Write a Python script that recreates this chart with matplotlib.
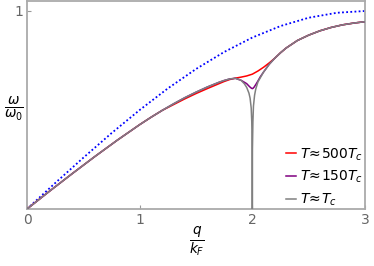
import numpy as np
import matplotlib
matplotlib.use("Agg")
import matplotlib.pyplot as plt

# free-ion dispersion (blue dotted)
q_free = [0, 0.25, 0.5, 0.75, 1.0, 1.25, 1.5, 1.75, 2.0, 2.25, 2.5, 2.75, 3.0]
w_free = [0, 0.131, 0.259, 0.383, 0.5, 0.609, 0.707, 0.793, 0.866, 0.924, 0.966, 0.991, 1.0]

# shared low-q and high-q parts of the screened curves
q_low = [0, 0.2, 0.4, 0.6, 0.8, 1.0, 1.1, 1.2]
w_low = [0, 0.09, 0.178, 0.264, 0.347, 0.426, 0.463, 0.498]
q_high = [2.2, 2.25, 2.3, 2.4, 2.5, 2.6, 2.7, 2.8, 2.9, 3.0]
w_high = [0.762, 0.789, 0.813, 0.851, 0.878, 0.9, 0.917, 0.93, 0.939, 0.946]

# T ~ Tc (gray)
q_tc = [1.3, 1.4, 1.5, 1.6, 1.7, 1.75, 1.8, 1.85, 1.9, 1.93, 1.95, 1.97, 1.98, 1.99,
        1.995, 1.999, 2.0, 2.001, 2.005, 2.01, 2.02, 2.03, 2.05, 2.1, 2.15]
w_tc = [0.531, 0.562, 0.59, 0.616, 0.639, 0.649, 0.657, 0.66, 0.65, 0.632, 0.614, 0.585, 0.56, 0.51,
        0.44, 0.30, 0.0, 0.30, 0.44, 0.52, 0.575, 0.605, 0.642, 0.692, 0.731]

# T ~ 150 Tc (purple)
q_150 = [1.3, 1.4, 1.5, 1.6, 1.7, 1.75, 1.8, 1.85, 1.9, 1.93, 1.95, 1.97, 1.985, 1.995,
         2.0, 2.005, 2.015, 2.03, 2.05, 2.07, 2.1, 2.15]
w_150 = [0.531, 0.562, 0.59, 0.616, 0.639, 0.649, 0.657, 0.66, 0.65, 0.64, 0.633, 0.621, 0.613, 0.609,
         0.608, 0.609, 0.615, 0.628, 0.647, 0.667, 0.692, 0.731]

# T ~ 500 Tc (red)
q_500 = [1.3, 1.4, 1.5, 1.6, 1.7, 1.75, 1.8, 1.85, 1.9, 1.95, 2.0, 2.05, 2.1, 2.15]
w_500 = [0.527, 0.556, 0.583, 0.608, 0.632, 0.644, 0.654, 0.661, 0.666, 0.672, 0.681, 0.697, 0.716, 0.738]

labels = [r'$T\!\approx\!500T_c$', r'$T\!\approx\!150T_c$', r'$T\!\approx\!T_c$']

fig = plt.figure(figsize=(3.74, 2.66), dpi=100)
ax = fig.add_axes([27/374, 1 - 209/266, 338/374, 208/266])

ax.plot(q_free, w_free, color='#0000ff', lw=1.3, linestyle=(0, (1, 1.3)), zorder=1)
ax.plot(q_low + q_500 + q_high, w_low + w_500 + w_high, color='#ff0000', lw=1.1, label=labels[0], zorder=2)
ax.plot(q_low + q_150 + q_high, w_low + w_150 + w_high, color='#800080', lw=1.1, label=labels[1], zorder=3)
ax.plot(q_low + q_tc + q_high, w_low + w_tc + w_high, color='#808080', lw=1.1, label=labels[2], zorder=4)

ax.set_xlim(0, 3)
ax.set_ylim(0, 1.0505)
ax.set_xticks([0, 1, 2, 3])
ax.set_yticks([1])
ax.tick_params(direction='in', length=3, width=0.8, colors='#999999', labelcolor='#666666',
               labelsize=10, pad=3)
for s in ax.spines.values():
    s.set_color('#aaaaaa')
    s.set_linewidth(1.3)

fig.text(14/374, 1 - 109/266, r'$\frac{\omega}{\omega_0}$', fontsize=14, ha='center', va='center')
fig.text(197/374, 1 - 241/266, r'$\frac{q}{k_F}$', fontsize=14, ha='center', va='center')

ax.legend(loc='lower right', bbox_to_anchor=(0.995, 0.005), frameon=False, fontsize=10,
          handlelength=0.7, handletextpad=0.3, labelspacing=0.45, borderpad=0, borderaxespad=0)

fig.savefig('out.png', dpi=100)
